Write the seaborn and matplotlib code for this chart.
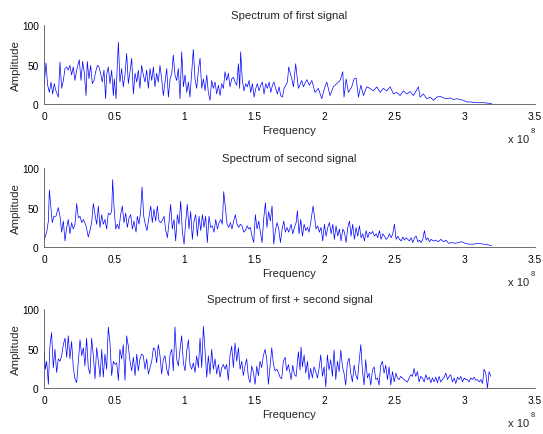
import numpy as np
import matplotlib
matplotlib.use("Agg")
import matplotlib.pyplot as plt
from matplotlib.ticker import FuncFormatter
import seaborn as sns

# ---- data (frequency in units of 1e8 Hz, amplitude) ----
freq1 = [0.000, 0.012, 0.024, 0.036, 0.048, 0.060, 0.071, 0.083, 0.100, 0.112, 0.124, 0.136, 0.148, 0.160,
         0.171, 0.183, 0.195, 0.207, 0.219, 0.231, 0.250, 0.262, 0.274, 0.286, 0.298, 0.307, 0.319, 0.331,
         0.343, 0.355, 0.367, 0.379, 0.390, 0.402, 0.414, 0.426, 0.438, 0.445, 0.457, 0.469, 0.481, 0.493,
         0.500, 0.512, 0.521, 0.529, 0.540, 0.552, 0.564, 0.576, 0.588, 0.600, 0.612, 0.624, 0.636, 0.648,
         0.660, 0.671, 0.683, 0.695, 0.707, 0.719, 0.731, 0.743, 0.755, 0.767, 0.779, 0.790, 0.802, 0.814,
         0.826, 0.838, 0.850, 0.862, 0.874, 0.886, 0.898, 0.910, 0.921, 0.933, 0.945, 0.957, 0.969, 0.981,
         0.993, 1.005, 1.017, 1.029, 1.040, 1.052, 1.064, 1.076, 1.088, 1.100, 1.112, 1.124, 1.136, 1.148,
         1.160, 1.171, 1.183, 1.195, 1.207, 1.219, 1.231, 1.243, 1.255, 1.267, 1.279, 1.290, 1.302, 1.314,
         1.326, 1.338, 1.350, 1.362, 1.374, 1.386, 1.395, 1.402, 1.414, 1.426, 1.438, 1.450, 1.462, 1.474,
         1.486, 1.498, 1.510, 1.521, 1.533, 1.545, 1.557, 1.569, 1.581, 1.593, 1.605, 1.617, 1.629, 1.640,
         1.652, 1.664, 1.676, 1.688, 1.700, 1.712, 1.724, 1.736, 1.745, 1.767, 1.779, 1.795, 1.814, 1.838,
         1.850, 1.874, 1.893, 1.910, 1.933, 1.957, 1.981, 2.000, 2.017, 2.040, 2.064, 2.088, 2.112, 2.131,
         2.140, 2.155, 2.171, 2.195, 2.212, 2.226, 2.243, 2.260, 2.279, 2.302, 2.326, 2.350, 2.374, 2.398,
         2.421, 2.445, 2.469, 2.493, 2.517, 2.540, 2.564, 2.588, 2.612, 2.636, 2.671, 2.683, 2.707, 2.731,
         2.755, 2.779, 2.802, 2.826, 2.850, 2.874, 2.898, 2.921, 2.945, 2.969, 2.993, 3.017, 3.040, 3.088,
         3.136, 3.195]
amp1 = [26, 52, 24, 15, 28, 13, 26, 17, 9, 53, 20, 30, 45, 47,
        43, 49, 37, 47, 30, 43, 56, 30, 54, 39, 11, 54, 32, 49,
        26, 30, 41, 49, 47, 39, 28, 43, 7, 37, 47, 26, 43, 11,
        32, 7, 49, 78, 28, 45, 22, 37, 64, 26, 41, 58, 13, 39,
        28, 43, 20, 49, 37, 28, 43, 20, 45, 30, 47, 22, 39, 28,
        49, 32, 11, 28, 45, 9, 32, 39, 62, 37, 30, 45, 7, 66,
        22, 37, 15, 28, 9, 39, 69, 32, 20, 43, 58, 20, 32, 17,
        37, 15, 5, 30, 20, 28, 13, 24, 11, 26, 20, 41, 30, 39,
        22, 32, 34, 28, 24, 51, 20, 66, 30, 17, 26, 22, 30, 15,
        26, 9, 20, 26, 17, 24, 28, 13, 26, 20, 28, 15, 24, 28,
        20, 13, 22, 11, 9, 20, 24, 28, 47, 32, 22, 51, 20, 30,
        22, 31, 24, 30, 15, 20, 7, 20, 28, 11, 22, 26, 30, 41,
        9, 32, 15, 22, 32, 33, 9, 24, 11, 22, 20, 17, 22, 15,
        20, 17, 22, 13, 15, 11, 17, 13, 16, 11, 22, 9, 13, 7,
        9, 5, 9, 10, 8, 7, 8, 6, 7, 6, 5, 3, 3, 2,
        2, 1]

freq2 = [0.000, 0.017, 0.029, 0.036, 0.045, 0.057, 0.069, 0.083, 0.100, 0.112, 0.124, 0.136, 0.148, 0.160,
         0.171, 0.183, 0.195, 0.207, 0.219, 0.231, 0.243, 0.255, 0.267, 0.279, 0.298, 0.314, 0.326, 0.338,
         0.350, 0.362, 0.374, 0.386, 0.398, 0.410, 0.421, 0.433, 0.445, 0.457, 0.469, 0.481, 0.488, 0.498,
         0.510, 0.521, 0.533, 0.545, 0.557, 0.569, 0.581, 0.593, 0.605, 0.617, 0.629, 0.640, 0.655, 0.664,
         0.676, 0.688, 0.698, 0.710, 0.721, 0.733, 0.745, 0.760, 0.771, 0.783, 0.795, 0.807, 0.819, 0.831,
         0.843, 0.855, 0.867, 0.879, 0.890, 0.902, 0.914, 0.926, 0.938, 0.950, 0.962, 0.974, 0.986, 0.998,
         1.010, 1.021, 1.033, 1.045, 1.057, 1.069, 1.081, 1.093, 1.105, 1.117, 1.129, 1.140, 1.152, 1.164,
         1.176, 1.188, 1.200, 1.212, 1.224, 1.236, 1.248, 1.260, 1.271, 1.281, 1.293, 1.305, 1.317, 1.329,
         1.340, 1.352, 1.364, 1.376, 1.388, 1.400, 1.412, 1.424, 1.436, 1.448, 1.460, 1.471, 1.483, 1.495,
         1.507, 1.519, 1.531, 1.543, 1.555, 1.567, 1.579, 1.590, 1.602, 1.614, 1.626, 1.638, 1.650, 1.662,
         1.674, 1.686, 1.698, 1.710, 1.721, 1.733, 1.745, 1.762, 1.774, 1.786, 1.798, 1.807, 1.819, 1.831,
         1.843, 1.855, 1.867, 1.879, 1.890, 1.902, 1.919, 1.929, 1.940, 1.952, 1.964, 1.976, 1.988, 2.000,
         2.012, 2.024, 2.036, 2.048, 2.060, 2.071, 2.083, 2.095, 2.107, 2.119, 2.131, 2.143, 2.155, 2.167,
         2.179, 2.190, 2.202, 2.214, 2.226, 2.238, 2.250, 2.262, 2.274, 2.286, 2.298, 2.310, 2.321, 2.333,
         2.345, 2.357, 2.369, 2.381, 2.393, 2.405, 2.417, 2.429, 2.440, 2.452, 2.464, 2.476, 2.488, 2.500,
         2.512, 2.524, 2.536, 2.548, 2.560, 2.571, 2.583, 2.595, 2.607, 2.619, 2.631, 2.643, 2.655, 2.667,
         2.679, 2.690, 2.702, 2.714, 2.726, 2.738, 2.750, 2.762, 2.779, 2.795, 2.814, 2.831, 2.850, 2.869,
         2.886, 2.910, 2.933, 2.957, 2.981, 3.005, 3.029, 3.064, 3.100, 3.136, 3.171, 3.195]
amp2 = [10, 19, 33, 72, 54, 31, 39, 39, 50, 39, 19, 33, 8, 25,
        35, 17, 31, 23, 29, 55, 37, 39, 31, 35, 27, 13, 21, 31,
        55, 41, 29, 52, 25, 41, 29, 35, 23, 43, 41, 45, 85, 50,
        23, 29, 23, 41, 52, 31, 43, 25, 37, 41, 23, 33, 19, 39,
        29, 45, 76, 39, 29, 21, 35, 52, 31, 48, 33, 52, 33, 31,
        34, 39, 21, 12, 31, 54, 23, 35, 8, 41, 29, 58, 19, 4,
        33, 54, 23, 45, 10, 33, 41, 14, 39, 21, 41, 25, 39, 6,
        39, 25, 27, 19, 35, 23, 31, 35, 29, 70, 50, 29, 25, 31,
        23, 33, 41, 29, 25, 29, 27, 19, 21, 27, 23, 25, 14, 6,
        41, 23, 33, 19, 6, 37, 56, 25, 45, 33, 52, 4, 21, 31,
        23, 6, 23, 33, 19, 25, 19, 29, 17, 25, 31, 46, 17, 35,
        14, 29, 21, 25, 19, 31, 52, 39, 23, 27, 19, 25, 8, 29,
        14, 25, 31, 17, 29, 10, 27, 14, 23, 8, 23, 19, 6, 25,
        33, 14, 29, 10, 25, 14, 27, 12, 17, 8, 21, 12, 19, 17,
        20, 14, 17, 12, 21, 10, 17, 14, 10, 12, 17, 12, 17, 29,
        10, 14, 10, 8, 13, 9, 12, 10, 8, 12, 6, 12, 14, 7,
        9, 6, 10, 21, 9, 12, 7, 10, 8, 9, 7, 10, 7, 9,
        5, 6, 5, 6, 7, 5, 4, 4, 5, 4, 3, 2]

freq3 = [0.000, 0.007, 0.017, 0.029, 0.040, 0.052, 0.064, 0.076, 0.088, 0.100, 0.112, 0.124, 0.136, 0.148,
         0.160, 0.171, 0.183, 0.195, 0.207, 0.219, 0.231, 0.243, 0.255, 0.267, 0.279, 0.290, 0.302, 0.314,
         0.326, 0.338, 0.350, 0.362, 0.374, 0.386, 0.398, 0.410, 0.421, 0.433, 0.445, 0.457, 0.469, 0.481,
         0.493, 0.505, 0.517, 0.529, 0.540, 0.552, 0.564, 0.576, 0.588, 0.600, 0.612, 0.624, 0.636, 0.648,
         0.660, 0.671, 0.683, 0.695, 0.707, 0.719, 0.731, 0.743, 0.755, 0.767, 0.779, 0.790, 0.802, 0.814,
         0.826, 0.838, 0.850, 0.862, 0.874, 0.886, 0.898, 0.910, 0.921, 0.933, 0.945, 0.957, 0.969, 0.981,
         0.993, 1.005, 1.017, 1.029, 1.040, 1.052, 1.064, 1.076, 1.088, 1.100, 1.112, 1.124, 1.136, 1.148,
         1.160, 1.171, 1.183, 1.195, 1.207, 1.219, 1.231, 1.243, 1.255, 1.267, 1.279, 1.290, 1.302, 1.314,
         1.326, 1.338, 1.350, 1.362, 1.374, 1.386, 1.398, 1.410, 1.421, 1.433, 1.445, 1.457, 1.469, 1.481,
         1.493, 1.505, 1.517, 1.529, 1.540, 1.552, 1.564, 1.576, 1.588, 1.600, 1.612, 1.624, 1.636, 1.648,
         1.660, 1.671, 1.683, 1.695, 1.707, 1.719, 1.731, 1.743, 1.762, 1.774, 1.786, 1.798, 1.814, 1.826,
         1.833, 1.843, 1.855, 1.867, 1.879, 1.890, 1.902, 1.914, 1.926, 1.938, 1.950, 1.962, 1.974, 1.986,
         1.998, 2.010, 2.021, 2.033, 2.045, 2.057, 2.069, 2.081, 2.093, 2.105, 2.117, 2.129, 2.140, 2.152,
         2.164, 2.176, 2.188, 2.200, 2.212, 2.224, 2.236, 2.248, 2.260, 2.271, 2.283, 2.295, 2.307, 2.319,
         2.331, 2.343, 2.355, 2.367, 2.379, 2.390, 2.402, 2.414, 2.426, 2.438, 2.450, 2.462, 2.474, 2.486,
         2.498, 2.510, 2.521, 2.533, 2.545, 2.557, 2.569, 2.581, 2.593, 2.605, 2.617, 2.629, 2.640, 2.652,
         2.664, 2.676, 2.688, 2.700, 2.712, 2.724, 2.736, 2.748, 2.760, 2.771, 2.783, 2.795, 2.807, 2.819,
         2.831, 2.843, 2.855, 2.867, 2.879, 2.890, 2.902, 2.914, 2.926, 2.938, 2.950, 2.962, 2.974, 2.986,
         2.998, 3.010, 3.021, 3.033, 3.045, 3.057, 3.069, 3.081, 3.093, 3.105, 3.117, 3.129, 3.140, 3.152,
         3.164, 3.176, 3.188]
amp3 = [45, 24, 34, 5, 53, 70, 26, 49, 20, 37, 34, 41, 55, 63,
        39, 66, 37, 59, 26, 12, 7, 34, 61, 41, 51, 28, 63, 26,
        18, 63, 41, 12, 51, 34, 14, 49, 14, 43, 24, 77, 57, 16,
        34, 30, 32, 10, 49, 37, 55, 10, 66, 53, 34, 22, 39, 16,
        43, 22, 37, 43, 41, 24, 37, 18, 26, 34, 51, 49, 32, 55,
        41, 18, 37, 41, 24, 16, 43, 49, 22, 77, 37, 28, 49, 66,
        32, 22, 47, 61, 30, 24, 32, 20, 41, 26, 63, 26, 78, 45,
        14, 41, 18, 49, 24, 37, 18, 30, 14, 26, 30, 24, 30, 10,
        41, 53, 26, 57, 34, 51, 24, 34, 16, 28, 37, 14, 7, 28,
        20, 5, 28, 16, 34, 26, 41, 49, 37, 5, 28, 51, 30, 22,
        24, 20, 14, 12, 34, 39, 22, 30, 11, 29, 17, 15, 46, 23,
        52, 27, 42, 19, 34, 11, 25, 13, 27, 21, 13, 25, 42, 15,
        27, 2, 42, 23, 36, 15, 48, 11, 34, 21, 48, 27, 19, 4,
        32, 38, 19, 8, 29, 17, 11, 34, 55, 23, 4, 36, 13, 19,
        4, 23, 27, 11, 13, 4, 29, 34, 19, 29, 11, 27, 4, 21,
        8, 19, 13, 11, 15, 13, 11, 9, 8, 13, 17, 15, 25, 15,
        21, 8, 15, 13, 8, 17, 11, 14, 7, 13, 8, 14, 7, 15,
        8, 11, 14, 19, 11, 15, 17, 8, 13, 6, 14, 11, 15, 8,
        13, 11, 11, 8, 13, 11, 14, 10, 11, 8, 11, 6, 24, 19,
        0, 21, 15]

titles = ["Spectrum of first signal", "Spectrum of second signal", "Spectrum of first + second signal"]
series = [(freq1, amp1), (freq2, amp2), (freq3, amp3)]
xticks = [0, 0.5, 1, 1.5, 2, 2.5, 3, 3.5]
yticks = [0, 50, 100]

# ---- style ----
sns.set_style("white")
plt.rcParams["font.family"] = ["Liberation Sans", "DejaVu Sans"]
plt.rcParams["font.size"] = 7

W, H = 543, 435
fig = plt.figure(figsize=(W / 100, H / 100), dpi=100)

left = 44.3 / W
width = (534.5 - 44.3) / W
height = 79.5 / H
bottoms_px = [105.3, 248.3, 389.3]

fmt = FuncFormatter(lambda v, p: "%g" % v)

for (fx, fy), title, bpx in zip(series, titles, bottoms_px):
    ax = fig.add_axes([left, 1 - bpx / H, width, height])
    df_x = np.asarray(fx)
    df_y = np.asarray(fy)
    sns.lineplot(x=df_x, y=df_y, ax=ax, color="#0000ff", linewidth=0.5,
                 estimator=None, sort=False)
    ax.set_xlim(0, 3.5)
    ax.set_ylim(0, 100)
    ax.set_xticks(xticks)
    ax.set_yticks(yticks)
    ax.xaxis.set_major_formatter(fmt)
    ax.tick_params(direction="in", length=3, width=0.6, colors="#333333",
                   labelsize=7.3, labelcolor="black")
    ax.tick_params(axis="x", pad=5)
    ax.tick_params(axis="y", pad=4)
    for s in ["top", "right"]:
        ax.spines[s].set_visible(False)
    for s in ["left", "bottom"]:
        ax.spines[s].set_color("#555555")
        ax.spines[s].set_linewidth(0.6)
    ax.set_title(title, fontsize=8.2, pad=5)
    ax.set_xlabel("Frequency", fontsize=8.2)
    ax.set_ylabel("Amplitude", fontsize=8.2)
    ax.xaxis.set_label_coords(0.5, -0.26)
    ax.yaxis.set_label_coords(-0.048, 0.5)
    ax.text(0.945, -0.44, "x 10", transform=ax.transAxes, fontsize=8,
            ha="left", va="center")
    ax.text(0.993, -0.335, "8", transform=ax.transAxes, fontsize=5.5,
            ha="left", va="center")

fig.savefig("out.png", dpi=100)
